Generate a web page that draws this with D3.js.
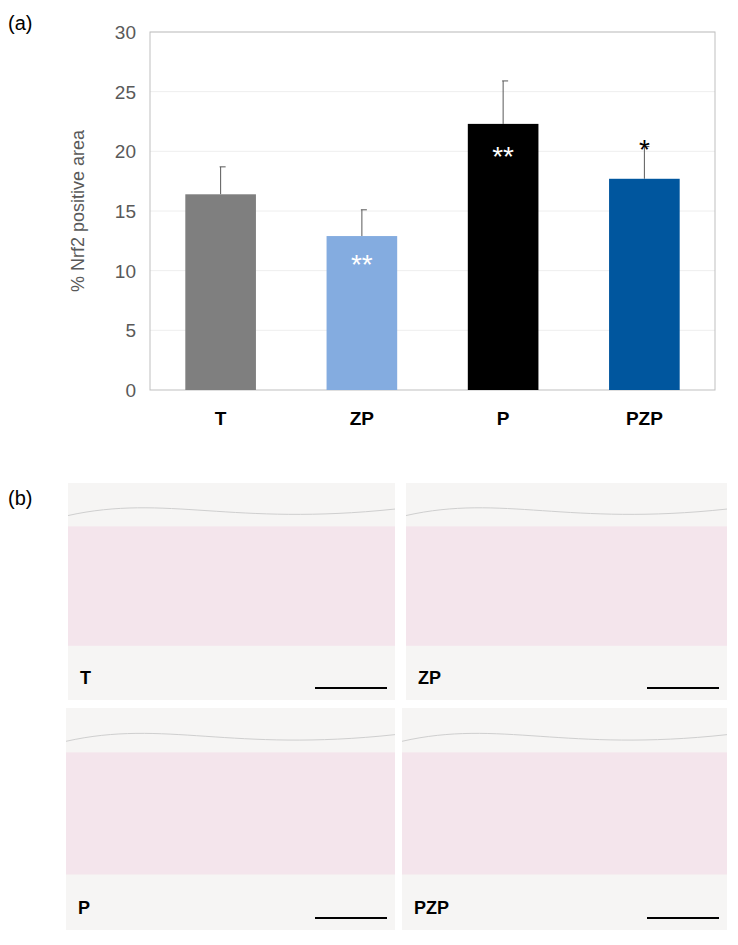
<!DOCTYPE html>
<html><head><meta charset="utf-8">
<script src="https://cdn.jsdelivr.net/npm/d3@7"></script>
<style>body{margin:0;background:#fff}svg{display:block;font-family:Arial,"Liberation Sans",sans-serif}</style>
</head><body><svg id="c" width="738" height="945"></svg>
<script>
const categories = ["T","ZP","P","PZP"];
const values = [16.4, 12.9, 22.3, 17.7];
const errors = [2.3, 2.2, 3.6, 2.7];
const sigLabels = ["", "**", "**", "*"];
const barColors = ["#7f7f7f","#84ace0","#000000","#00569e"];
const yTicks = [0,5,10,15,20,25,30];
const panels = [{label:"T",x:68,y:483,w:327,h:217},{label:"ZP",x:406,y:483,w:321,h:217},
                {label:"P",x:66,y:708,w:329,h:222},{label:"PZP",x:402,y:708,w:325,h:222}];

const svg = d3.select("#c");
const L=150,R=715,T=32,B=390;
const x = d3.scaleBand().domain(categories).range([L,R]).paddingInner(0.5).paddingOuter(0.25);
const y = d3.scaleLinear().domain([0,30]).range([B,T]);

svg.append("text").attr("x",8).attr("y",30).attr("font-size",20).text("(a)");
svg.append("text").attr("x",8).attr("y",505).attr("font-size",20).text("(b)");

svg.selectAll(".g").data(yTicks.slice(1)).join("line").attr("x1",L).attr("x2",R)
  .attr("y1",d=>y(d)).attr("y2",d=>y(d)).attr("stroke","#eeeeee");
svg.append("rect").attr("x",L).attr("y",T).attr("width",R-L).attr("height",B-T)
  .attr("fill","none").attr("stroke","#bfbfbf");
svg.selectAll(".yt").data(yTicks).join("text").attr("x",L-14).attr("y",d=>y(d)+7)
  .attr("text-anchor","end").attr("font-size",19).attr("fill","#595959").text(d=>d);
svg.append("text").attr("transform",`translate(84,${(T+B)/2}) rotate(-90)`)
  .attr("text-anchor","middle").attr("font-size",18).attr("fill","#595959").text("% Nrf2 positive area");

const g = svg.selectAll(".bar").data(categories).join("g");
g.append("line").attr("x1",(d)=>x(d)+x.bandwidth()/2).attr("x2",d=>x(d)+x.bandwidth()/2)
  .attr("y1",(d,i)=>y(values[i])).attr("y2",(d,i)=>y(values[i]+errors[i])).attr("stroke","#595959");
g.append("line").attr("x1",d=>x(d)+x.bandwidth()/2-1).attr("x2",d=>x(d)+x.bandwidth()/2+5)
  .attr("y1",(d,i)=>y(values[i]+errors[i])).attr("y2",(d,i)=>y(values[i]+errors[i])).attr("stroke","#595959");
g.append("rect").attr("x",d=>x(d)).attr("width",x.bandwidth())
  .attr("y",(d,i)=>y(values[i])).attr("height",(d,i)=>B-y(values[i])).attr("fill",(d,i)=>barColors[i]);
g.append("text").attr("x",d=>x(d)+x.bandwidth()/2).attr("y",B+35).attr("text-anchor","middle")
  .attr("font-size",19).attr("font-weight","bold").text(d=>d);
g.append("text").attr("x",d=>x(d)+x.bandwidth()/2)
  .attr("y",(d,i)=> i===3 ? y(values[i]+errors[i])+12 : y(values[i])+ (i===1?38:42))
  .attr("text-anchor","middle").attr("font-size",28)
  .attr("fill",(d,i)=> i===3?"#000":"#fff").text((d,i)=>sigLabels[i]);

const p = svg.selectAll(".p").data(panels).join("g").attr("transform",d=>`translate(${d.x},${d.y})`);
p.append("rect").attr("width",d=>d.w).attr("height",d=>d.h).attr("fill","#f6f5f4");
p.append("path").attr("d",d=>`M0,${d.h*0.15} C${d.w*0.3},${d.h*0.05} ${d.w*0.5},${d.h*0.2} ${d.w},${d.h*0.12}`)
  .attr("fill","none").attr("stroke","#cfcfcf");
p.append("rect").attr("y",d=>d.h*0.2).attr("width",d=>d.w).attr("height",d=>d.h*0.55)
  .attr("fill","#f3dbe6").attr("opacity",0.6);
p.append("text").attr("x",12).attr("y",d=>d.h-16).attr("font-size",18).attr("font-weight","bold").text(d=>d.label);
p.append("line").attr("x1",d=>d.w-80).attr("x2",d=>d.w-8).attr("y1",d=>d.h-12).attr("y2",d=>d.h-12)
  .attr("stroke","#000").attr("stroke-width",2);
</script></body></html>
